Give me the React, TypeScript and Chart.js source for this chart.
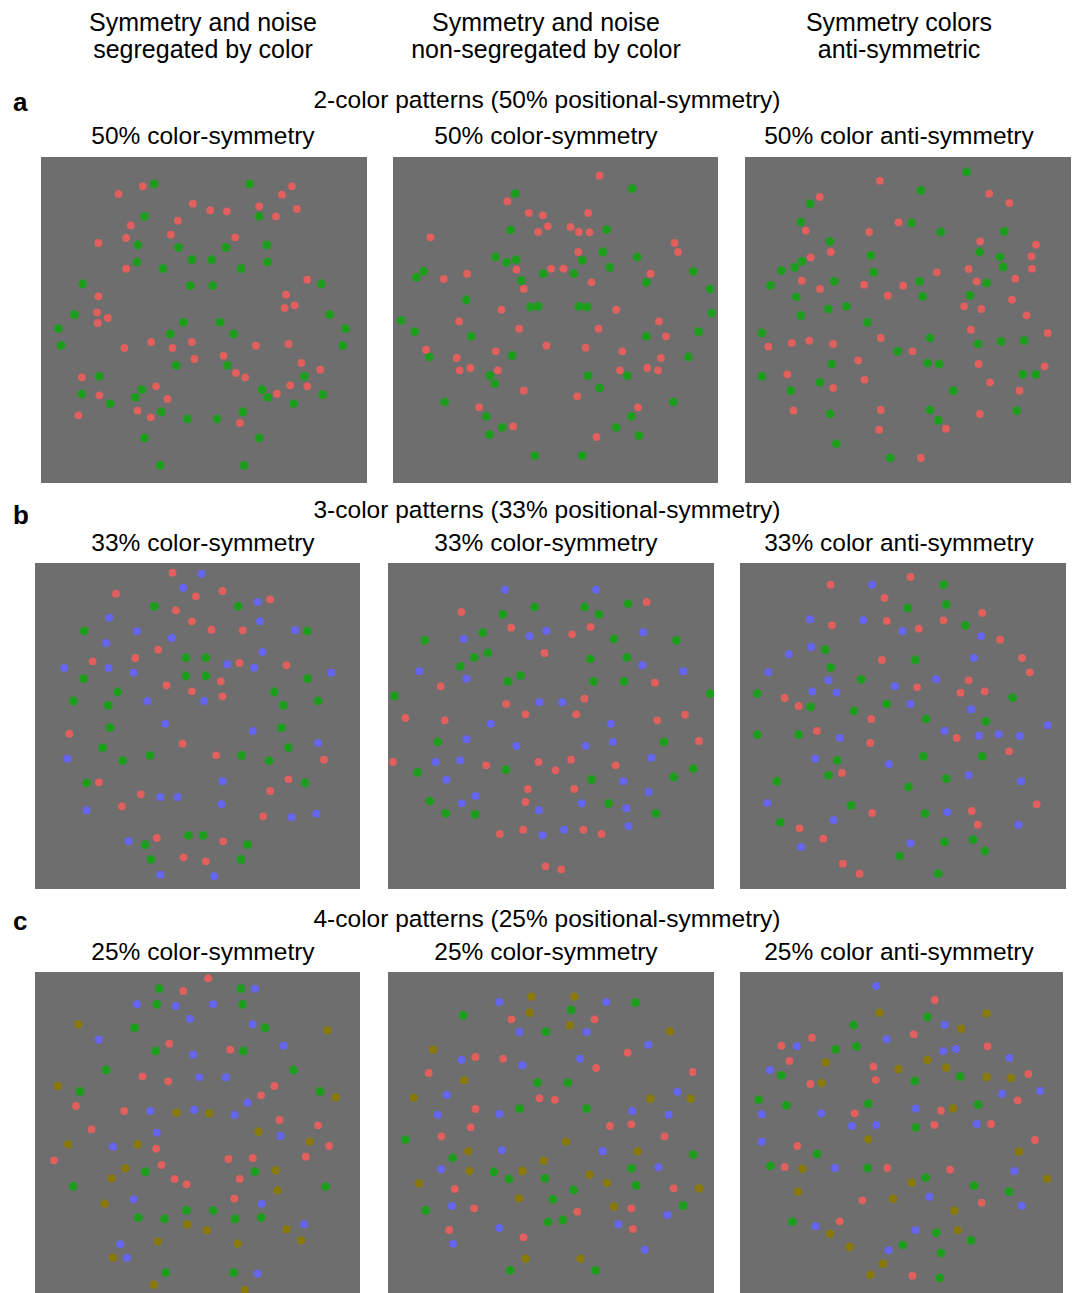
import React, { useEffect, useRef } from 'react';
import { Chart, registerables } from 'chart.js';
Chart.register(...registerables);

type Pt = [number, number];

// ---- Row a: 2-color patterns ----
const A1_RED: Pt[] = [[313,100],[760,100],[730,125],[240,123],[463,152],[515,172],[565,175],[662,160],[712,190],[775,168],[418,203],[277,217],[397,245],[263,255],[590,253],[180,270],[263,347],[806,380],[180,430],[742,425],[176,478],[208,495],[178,510],[738,465],[768,457],[258,585],[338,567],[402,585],[460,567],[652,578],[750,573],[468,618],[555,608],[788,630],[845,650],[130,673],[592,660],[620,673],[353,700],[755,697],[806,700],[183,727],[715,722],[387,738],[120,787],[297,773],[337,793],[604,810]];
const A1_GREEN: Pt[] = [[347,93],[633,93],[662,190],[318,190],[298,276],[420,283],[562,283],[685,276],[295,327],[460,320],[520,320],[687,327],[373,347],[607,347],[133,393],[455,398],[523,398],[848,393],[108,485],[873,485],[60,527],[435,508],[545,508],[920,527],[395,543],[585,543],[68,578],[912,578],[413,637],[567,637],[183,670],[797,670],[310,710],[670,710],[130,723],[290,733],[688,733],[852,725],[215,752],[765,752],[368,777],[447,798],[535,798],[613,777],[318,855],[662,855],[365,937],[617,937]];

const A2_RED: Pt[] = [[627,68],[351,145],[415,180],[457,187],[593,180],[472,220],[443,237],[540,222],[565,237],[597,238],[120,253],[852,270],[862,297],[563,297],[378,350],[482,347],[519,347],[160,378],[230,362],[780,362],[400,408],[603,388],[333,470],[677,470],[206,505],[805,505],[386,527],[624,527],[826,550],[468,578],[585,584],[107,590],[199,615],[316,595],[695,595],[811,615],[208,652],[240,645],[322,652],[688,652],[770,645],[802,652],[400,713],[560,730],[266,763],[742,763],[368,820],[618,852]];
const A2_GREEN: Pt[] = [[725,107],[375,122],[360,231],[648,230],[315,312],[348,328],[377,320],[575,322],[637,297],[740,312],[458,362],[550,362],[657,343],[100,355],[78,373],[908,355],[392,382],[767,388],[227,441],[958,408],[420,462],[443,460],[565,460],[590,462],[32,502],[963,480],[73,536],[242,550],[767,550],[924,536],[117,612],[365,608],[893,612],[298,668],[313,692],[593,668],[710,668],[627,705],[163,747],[848,747],[288,790],[722,790],[335,823],[677,823],[297,845],[745,848],[433,908],[575,908]];

const A3_RED: Pt[] = [[412,83],[232,132],[740,122],[800,150],[468,208],[190,233],[380,237],[265,297],[713,265],[880,275],[205,313],[866,310],[868,347],[583,358],[678,348],[178,383],[365,395],[482,398],[702,385],[818,377],[233,408],[436,428],[808,440],[665,460],[716,468],[852,487],[685,530],[915,540],[78,581],[148,570],[200,563],[272,573],[415,555],[510,595],[347,622],[708,633],[906,640],[135,664],[366,680],[742,688],[272,705],[831,713],[153,773],[415,771],[712,783],[410,830],[610,827],[535,915]];
const A3_GREEN: Pt[] = [[672,57],[535,112],[203,152],[175,207],[507,210],[595,237],[785,235],[262,265],[385,307],[712,297],[178,325],[157,343],[117,353],[772,312],[782,342],[393,358],[275,385],[531,385],[732,390],[84,397],[162,432],[540,430],[682,427],[258,468],[312,460],[175,487],[375,508],[58,540],[562,555],[706,573],[775,565],[844,563],[465,595],[268,633],[555,630],[590,633],[58,670],[233,688],[840,664],[880,664],[145,713],[632,713],[263,783],[562,771],[822,773],[587,802],[282,872],[443,915]];

// ---- Row b: 3-color patterns ----
const B1_RED: Pt[] = [[420,37],[250,100],[490,108],[570,92],[430,150],[713,117],[478,183],[537,208],[631,210],[377,268],[180,303],[308,293],[621,308],[762,315],[565,363],[402,375],[478,393],[570,408],[110,520],[450,550],[551,585],[875,598],[199,666],[768,657],[325,702],[713,692],[268,738],[692,768],[373,833],[572,843],[453,891],[520,903]];
const B1_GREEN: Pt[] = [[365,138],[617,138],[155,212],[825,212],[460,292],[520,292],[153,355],[460,347],[520,347],[826,355],[255,395],[725,395],[122,422],[227,435],[753,435],[857,422],[232,502],[747,502],[210,562],[768,562],[270,601],[352,585],[627,585],[710,601],[162,668],[818,668],[468,825],[512,825],[338,853],[645,853],[355,897],[625,897]];
const B1_BLUE: Pt[] = [[507,40],[452,82],[675,125],[230,172],[683,183],[313,213],[788,210],[220,248],[418,233],[690,275],[585,312],[665,322],[95,323],[228,323],[303,337],[897,337],[344,422],[515,422],[398,490],[661,512],[857,548],[105,595],[570,663],[383,710],[435,710],[567,732],[162,750],[778,771],[852,760],[288,843],[383,943],[545,948]];

const B2_RED: Pt[] = [[228,155],[783,125],[377,202],[560,222],[615,200],[477,278],[166,378],[808,367],[362,431],[597,415],[420,462],[572,462],[60,473],[178,480],[815,480],[898,463],[940,542],[23,605],[302,615],[459,605],[510,630],[557,598],[690,615],[427,686],[566,686],[420,725],[343,821],[413,808],[594,808],[648,821],[480,918],[527,927]];
const B2_GREEN: Pt[] = [[447,140],[597,140],[352,162],[640,162],[728,130],[292,217],[118,240],[685,236],[873,240],[266,291],[307,278],[614,296],[724,291],[225,318],[405,345],[368,363],[624,363],[715,363],[27,407],[973,400],[157,545],[835,545],[361,628],[96,636],[618,658],[864,650],[923,625],[133,722],[669,729],[181,759],[269,762],[811,759]];
const B2_BLUE: Pt[] = [[358,88],[632,88],[482,212],[432,228],[234,236],[773,216],[770,315],[102,333],[893,333],[243,355],[462,426],[530,426],[316,490],[676,490],[243,537],[393,557],[600,557],[682,545],[151,605],[225,600],[797,592],[183,658],[713,663],[789,695],[229,729],[270,707],[588,729],[460,750],[722,744],[471,825],[536,808],[729,797]];

const B3_RED: Pt[] = [[518,50],[278,73],[440,113],[733,158],[282,195],[447,182],[617,180],[543,205],[787,238],[432,299],[853,293],[876,336],[693,360],[538,381],[668,397],[741,393],[140,413],[182,437],[400,476],[237,512],[657,533],[397,548],[814,573],[312,638],[403,758],[702,752],[897,732],[185,804],[720,793],[256,835],[315,910],[365,940]];
const B3_GREEN: Pt[] = [[617,73],[625,133],[510,143],[683,195],[262,268],[533,299],[278,321],[370,357],[58,400],[825,412],[218,440],[446,431],[348,452],[565,476],[744,483],[58,523],[182,523],[557,588],[733,588],[298,600],[272,645],[625,655],[116,663],[512,680],[340,735],[562,760],[127,786],[620,845],[706,838],[741,872],[486,887],[601,940]];
const B3_BLUE: Pt[] = [[403,73],[216,177],[376,180],[494,213],[730,228],[220,260],[153,282],[708,293],[91,336],[272,360],[595,357],[471,378],[223,393],[296,397],[518,431],[700,447],[930,495],[306,533],[620,512],[723,526],[783,522],[847,527],[232,595],[453,612],[693,645],[850,663],[88,728],[628,756],[287,780],[842,793],[518,849],[189,860]];

// ---- Row c: 4-color patterns ----
const C1_RED: Pt[] = [[527,27],[452,65],[410,223],[593,241],[330,321],[407,336],[726,350],[686,378],[130,410],[275,425],[741,452],[177,480],[857,468],[371,538],[890,530],[64,573],[588,569],[661,566],[820,562],[387,587],[426,629],[462,645],[622,629],[606,688]];
const C1_GREEN: Pt[] = [[380,58],[625,58],[373,105],[630,105],[306,175],[698,175],[370,245],[633,245],[220,302],[783,302],[142,367],[863,367],[338,607],[667,607],[121,651],[880,652],[462,723],[542,723],[317,745],[396,749],[608,749],[686,745],[400,910],[603,910]];
const C1_BLUE: Pt[] = [[668,58],[313,105],[430,110],[542,105],[472,148],[661,165],[198,211],[482,256],[754,229],[500,324],[580,324],[645,400],[353,425],[485,421],[606,437],[373,490],[744,500],[241,532],[303,690],[688,703],[815,765],[263,825],[283,865],[675,913]];
const C1_OLIVE: Pt[] = [[137,165],[885,183],[75,350],[910,384],[432,430],[530,432],[678,487],[107,525],[315,525],[832,517],[278,597],[730,603],[237,627],[735,663],[216,703],[465,765],[523,783],[762,780],[376,816],[616,823],[806,813],[241,865],[363,946],[637,962]];

const C2_RED: Pt[] = [[378,150],[627,150],[270,263],[353,268],[632,296],[726,250],[130,311],[921,308],[462,387],[508,391],[270,419],[256,474],[168,501],[673,470],[737,465],[837,501],[208,659],[864,657],[266,717],[575,727],[737,717],[191,782],[742,779],[414,804]];
const C2_GREEN: Pt[] = [[750,100],[233,138],[557,122],[481,187],[456,340],[547,340],[402,418],[603,418],[60,511],[202,566],[923,556],[325,608],[371,629],[478,627],[737,597],[752,648],[564,662],[502,690],[893,709],[121,723],[488,758],[532,752],[374,903],[630,903]];
const C2_BLUE: Pt[] = [[342,98],[662,98],[402,188],[603,188],[228,271],[411,288],[584,268],[788,226],[184,377],[875,367],[157,436],[342,434],[740,425],[849,436],[349,543],[651,546],[167,600],[818,594],[200,710],[846,737],[698,765],[341,776],[203,823],[778,841]];
const C2_OLIVE: Pt[] = [[438,82],[566,82],[432,130],[553,168],[853,186],[143,241],[236,333],[85,385],[794,388],[915,388],[541,517],[249,546],[756,546],[474,574],[252,605],[411,605],[612,616],[101,642],[664,641],[941,657],[401,687],[685,712],[420,868],[585,868]];

const C3_RED: Pt[] = [[590,94],[222,207],[130,231],[527,197],[749,233],[154,277],[406,294],[217,346],[413,334],[871,316],[839,395],[609,426],[350,434],[589,469],[759,466],[178,532],[891,514],[140,595],[448,598],[636,603],[373,695],[731,702],[305,758],[523,921]];
const C3_GREEN: Pt[] = [[568,145],[347,169],[293,242],[355,233],[130,320],[530,337],[666,324],[62,393],[145,410],[391,405],[720,408],[534,476],[237,556],[97,592],[389,598],[563,627],[708,651],[813,669],[163,759],[595,792],[699,815],[494,829],[609,853],[606,928]];
const C3_BLUE: Pt[] = [[415,52],[620,168],[177,233],[446,212],[616,248],[654,241],[814,268],[95,304],[906,367],[792,375],[533,420],[71,437],[250,434],[342,472],[415,469],[716,466],[71,519],[290,598],[829,607],[574,684],[851,711],[233,773],[533,785],[451,845]];
const C3_OLIVE: Pt[] = [[424,132],[746,134],[669,180],[263,281],[568,274],[481,301],[624,297],[251,343],[746,325],[819,328],[645,419],[391,512],[843,549],[193,600],[927,630],[521,642],[180,669],[465,690],[649,726],[276,795],[659,785],[335,835],[435,885],[397,918]];

// ---- Text ----
const COLUMN_HEADERS: string[][] = [
  ['Symmetry and noise', 'segregated by color'],
  ['Symmetry and noise', 'non-segregated by color'],
  ['Symmetry colors', 'anti-symmetric'],
];
const ROW_LETTERS = ['a', 'b', 'c'];
const ROW_TITLES = [
  '2-color patterns (50% positional-symmetry)',
  '3-color patterns (33% positional-symmetry)',
  '4-color patterns (25% positional-symmetry)',
];
const PANEL_TITLES: string[][] = [
  ['50% color-symmetry', '50% color-symmetry', '50% color anti-symmetry'],
  ['33% color-symmetry', '33% color-symmetry', '33% color anti-symmetry'],
  ['25% color-symmetry', '25% color-symmetry', '25% color anti-symmetry'],
];

// ---- Styles / layout ----
const COLORS = { red: '#e15f5c', green: '#1c9e1c', blue: '#6565f0', olive: '#8a7a0a' };
const RADII = { red: 3.9, green: 4.4, blue: 4.0, olive: 4.2 };
const PANEL_BG = '#6e6e6e';
const FONT = '"Liberation Sans", Arial, Helvetica, sans-serif';

type ColorKey = keyof typeof COLORS;
type Series = { color: ColorKey; pts: Pt[] };
type PanelCfg = { cropX: number; cropY: number; zx0: number; zx1: number; zy0: number; zy1: number; series: Series[] };

const PANELS: PanelCfg[] = [
  { cropX: 38, cropY: 153, zx0: 8, zx1: 985, zy0: 12, zy1: 990, series: [{ color: 'red', pts: A1_RED }, { color: 'green', pts: A1_GREEN }] },
  { cropX: 390, cropY: 153, zx0: 8, zx1: 982, zy0: 12, zy1: 990, series: [{ color: 'red', pts: A2_RED }, { color: 'green', pts: A2_GREEN }] },
  { cropX: 742, cropY: 153, zx0: 8, zx1: 985, zy0: 12, zy1: 990, series: [{ color: 'red', pts: A3_RED }, { color: 'green', pts: A3_GREEN }] },
  { cropX: 33, cropY: 560, zx0: 7, zx1: 983, zy0: 8, zy1: 985, series: [{ color: 'red', pts: B1_RED }, { color: 'green', pts: B1_GREEN }, { color: 'blue', pts: B1_BLUE }] },
  { cropX: 385, cropY: 560, zx0: 8, zx1: 985, zy0: 8, zy1: 985, series: [{ color: 'red', pts: B2_RED }, { color: 'green', pts: B2_GREEN }, { color: 'blue', pts: B2_BLUE }] },
  { cropX: 738, cropY: 560, zx0: 6, zx1: 985, zy0: 8, zy1: 985, series: [{ color: 'red', pts: B3_RED }, { color: 'green', pts: B3_GREEN }, { color: 'blue', pts: B3_BLUE }] },
  { cropX: 33, cropY: 969, zx0: 7, zx1: 983, zy0: 8, zy1: 972, series: [{ color: 'red', pts: C1_RED }, { color: 'green', pts: C1_GREEN }, { color: 'blue', pts: C1_BLUE }, { color: 'olive', pts: C1_OLIVE }] },
  { cropX: 385, cropY: 969, zx0: 8, zx1: 985, zy0: 8, zy1: 972, series: [{ color: 'red', pts: C2_RED }, { color: 'green', pts: C2_GREEN }, { color: 'blue', pts: C2_BLUE }, { color: 'olive', pts: C2_OLIVE }] },
  { cropX: 738, cropY: 969, zx0: 6, zx1: 975, zy0: 10, zy1: 972, series: [{ color: 'red', pts: C3_RED }, { color: 'green', pts: C3_GREEN }, { color: 'blue', pts: C3_BLUE }, { color: 'olive', pts: C3_OLIVE }] },
];

const COL_CENTERS = [203, 546, 899];
const HEADER_TOPS = [10, 37];
const ROW_TITLE_TOPS = [88, 498, 907];
const ROW_LETTER_TOPS = [89, 502, 908];
const PANEL_TITLE_TOPS = [124, 531, 940];

function Panel({ cfg }: { cfg: PanelCfg }) {
  const ref = useRef<HTMLCanvasElement>(null);
  const left = Math.round(cfg.cropX + cfg.zx0 / 3);
  const top = Math.round(cfg.cropY + cfg.zy0 / 3);
  const w = Math.round((cfg.zx1 - cfg.zx0) / 3);
  const h = Math.min(Math.round((cfg.zy1 - cfg.zy0) / 3), 1293 - top);
  useEffect(() => {
    if (!ref.current) return;
    const chart = new Chart(ref.current, {
      type: 'scatter',
      data: {
        datasets: cfg.series.map((s) => ({
          data: s.pts.map(([x, y]) => ({ x, y })),
          backgroundColor: COLORS[s.color],
          borderWidth: 0,
          pointRadius: RADII[s.color],
          pointHoverRadius: RADII[s.color],
          clip: false as any,
        })),
      },
      options: {
        animation: false,
        responsive: false,
        maintainAspectRatio: false,
        events: [],
        layout: { padding: 0, autoPadding: false } as any,
        plugins: { legend: { display: false }, tooltip: { enabled: false }, title: { display: false } },
        scales: {
          x: { type: 'linear', min: cfg.zx0, max: cfg.zx1, display: false },
          y: { type: 'linear', min: cfg.zy0, max: cfg.zy0 + h * 3, reverse: true, display: false },
        },
      },
    });
    return () => chart.destroy();
  }, []);
  return (
    <canvas
      ref={ref}
      width={w}
      height={h}
      style={{ position: 'absolute', left, top, width: w, height: h, background: PANEL_BG }}
    />
  );
}

function Txt({ text, cx, top, size, bold, left }: { text: string; cx?: number; top: number; size: number; bold?: boolean; left?: number }) {
  const style: React.CSSProperties = {
    position: 'absolute',
    top,
    fontFamily: FONT,
    fontSize: size,
    lineHeight: `${size}px`,
    fontWeight: bold ? 'bold' : 'normal',
    color: '#000',
    whiteSpace: 'nowrap',
  };
  if (cx !== undefined) {
    style.left = cx - 300;
    style.width = 600;
    style.textAlign = 'center';
  } else {
    style.left = left;
  }
  return <div style={style}>{text}</div>;
}

export default function App() {
  return (
    <div style={{ position: 'absolute', left: 0, top: 0, width: 1073, height: 1293, overflow: 'hidden', background: '#fff' }}>
      {COLUMN_HEADERS.map((lines, ci) =>
        lines.map((line, li) => <Txt key={`h${ci}${li}`} text={line} cx={COL_CENTERS[ci]} top={HEADER_TOPS[li]} size={25} />)
      )}
      {ROW_LETTERS.map((l, ri) => (
        <Txt key={`l${ri}`} text={l} left={13} top={ROW_LETTER_TOPS[ri]} size={26} bold />
      ))}
      {ROW_TITLES.map((t, ri) => (
        <Txt key={`r${ri}`} text={t} cx={547} top={ROW_TITLE_TOPS[ri]} size={24.5} />
      ))}
      {PANEL_TITLES.map((row, ri) =>
        row.map((t, ci) => <Txt key={`p${ri}${ci}`} text={t} cx={COL_CENTERS[ci]} top={PANEL_TITLE_TOPS[ri]} size={24.5} />)
      )}
      {PANELS.map((p, i) => (
        <Panel key={i} cfg={p} />
      ))}
    </div>
  );
}
